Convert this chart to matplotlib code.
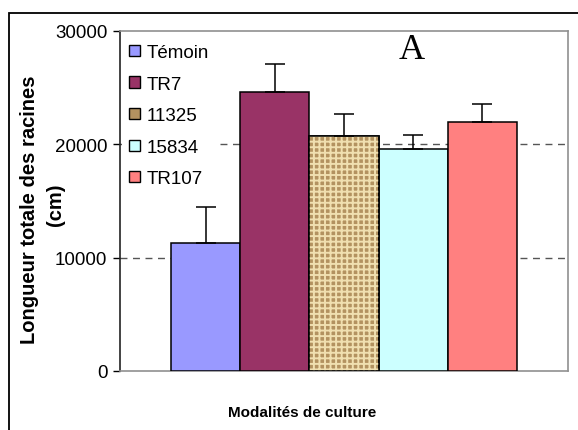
import matplotlib.pyplot as plt
from matplotlib.patches import Rectangle, Patch

plt.rcParams['font.family'] = ['Liberation Sans', 'DejaVu Sans']
plt.rcParams['hatch.linewidth'] = 1.4

# Root length per treatment (cm) with standard error
modalites = ["Témoin", "TR7", "11325", "15834", "TR107"]
longueurs = [11300, 24650, 20750, 19600, 22000]
erreurs = [3200, 2400, 1900, 1250, 1550]
couleurs = ["#9999FF", "#993366", "#B39260", "#CCFFFF", "#FF8080"]
y_ticks = [0, 10000, 20000, 30000]

fig = plt.figure(figsize=(5.78, 4.31), dpi=100)
ax = fig.add_axes([120 / 578, 59 / 431, 448 / 578, 340 / 431])

x = list(range(len(modalites)))
ax.bar(x, longueurs, width=1.0, color=couleurs, edgecolor="black",
       linewidth=1.1, zorder=3)

# burlap look for the 11325 bar: light weave on a tan base
i_toile = modalites.index("11325")
ax.bar(x[i_toile], longueurs[i_toile], width=1.0, facecolor="none",
       edgecolor="#F0DFB0", hatch="+++", linewidth=0, zorder=3.5)
ax.bar(x[i_toile], longueurs[i_toile], width=1.0, facecolor="none",
       edgecolor="black", linewidth=1.1, zorder=3.6)

ax.errorbar(x, longueurs, yerr=[[0] * len(erreurs), erreurs], fmt="none",
            ecolor="black", elinewidth=1.1, capsize=7, capthick=1.1, zorder=4)

ax.set_xlim(-1.24, 5.24)
ax.set_ylim(0, 30000)
ax.set_yticks(y_ticks)
ax.set_yticklabels([str(v) for v in y_ticks], fontsize=13.5)
ax.set_xticks([])
ax.tick_params(axis="y", direction="out", length=5, width=1, color="black", pad=4)

for v in y_ticks[1:-1]:
    ax.axhline(v, color="#555555", linestyle=(0, (5, 4)), linewidth=1, zorder=1)

for side in ["top", "right", "bottom"]:
    ax.spines[side].set_color("#909090")
    ax.spines[side].set_linewidth(1.2)
ax.spines["left"].set_color("#222222")
ax.spines["left"].set_linewidth(1.2)

ax.text(0.652, 0.945, "A", transform=ax.transAxes, ha="center", va="center",
        fontsize=26, family="Liberation Serif")

# legend with small square keys on a plain white box
handles = [Patch(facecolor=col, edgecolor="black", linewidth=1) for col in couleurs]
leg = ax.legend(handles, modalites, loc="upper left", bbox_to_anchor=(0.004, 0.984),
                frameon=True, fancybox=False, fontsize=13.5, handlelength=0.55,
                handleheight=0.55, handletextpad=0.35, labelspacing=0.78,
                borderpad=0.4, borderaxespad=0)
leg.get_frame().set_facecolor("white")
leg.get_frame().set_edgecolor("none")
leg.get_frame().set_alpha(1)

fig.text(30 / 578, 1 - 210 / 431, "Longueur totale des racines", rotation=90,
         ha="center", va="center", fontsize=14.5, fontweight="bold")
fig.text(55 / 578, 1 - 205 / 431, "(cm)", rotation=90,
         ha="center", va="center", fontsize=14.5, fontweight="bold")
fig.text(302 / 578, 1 - 413 / 431, "Modalités de culture", ha="center",
         va="center", fontsize=11, fontweight="bold")

# outer chart frame
fig.patches.append(Rectangle((9 / 578, -0.2), 2, 1.2 - 14 / 431, transform=fig.transFigure,
                             fill=False, edgecolor="black", linewidth=1.3))

fig.savefig("out.png", dpi=100)
